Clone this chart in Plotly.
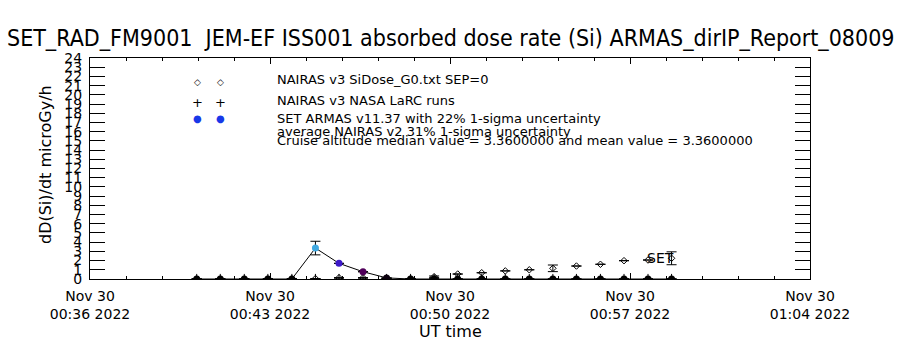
import plotly.graph_objects as go

# ---------------- data ----------------
times = ["2022-11-30 00:40:09", "2022-11-30 00:41:04", "2022-11-30 00:42:00", "2022-11-30 00:42:55",
         "2022-11-30 00:43:51", "2022-11-30 00:44:46", "2022-11-30 00:45:41", "2022-11-30 00:46:37",
         "2022-11-30 00:47:32", "2022-11-30 00:48:28", "2022-11-30 00:49:23", "2022-11-30 00:50:18",
         "2022-11-30 00:51:14", "2022-11-30 00:52:09", "2022-11-30 00:53:05", "2022-11-30 00:54:00",
         "2022-11-30 00:54:55", "2022-11-30 00:55:51", "2022-11-30 00:56:46", "2022-11-30 00:57:42",
         "2022-11-30 00:58:37"]
armas_dose = [0, 0, 0, 0, 0, 3.36, 1.70, 0.79, 0.12, 0, 0, 0, 0, 0, 0, 0, 0, 0, 0, 0, 0]
armas_err = [None, None, None, None, None, 0.74, None, None, None, None, None, None, None,
             None, None, None, None, None, None, None, None]
nairas_v3 = [0.0, 0.0, 0.0, 0.0, 0.02, 0.05, 0.14, 0.14, 0.05, 0.05, 0.25, 0.54, 0.68, 0.88,
             1.0, 1.16, 1.41, 1.6, 1.99, 2.06, 2.25]
nairas_err = [None, None, None, None, None, None, None, None, None, None, 0.08, None, None, None,
              None, 0.36, None, None, None, None, 0.70]
larc = [0.02] * 21

x_tickvals = ["2022-11-30 00:36:00", "2022-11-30 00:43:00", "2022-11-30 00:50:00",
              "2022-11-30 00:57:00", "2022-11-30 01:04:00"]
x_ticktext = ["Nov 30<br>00:36 2022", "Nov 30<br>00:43 2022", "Nov 30<br>00:50 2022",
              "Nov 30<br>00:57 2022", "Nov 30<br>01:04 2022"]

title = "SET_RAD_FM9001  JEM-EF ISS001 absorbed dose rate (Si) ARMAS_dirIP_Report_08009"
legend_lines = ["NAIRAS v3 SiDose_G0.txt SEP=0",
                "NAIRAS v3 NASA LaRC runs",
                "SET ARMAS v11.37 with 22% 1-sigma uncertainty",
                "average NAIRAS v2 31% 1-sigma uncertainty",
                "Cruise altitude median value = 3.3600000 and mean value = 3.3600000"]

FONT = "Liberation Sans Narrow, DejaVu Sans Condensed, Arial Narrow, Liberation Sans, sans-serif"
WIDE = "DejaVu Sans, sans-serif"

W, H = 900, 350
L, R, T, B = 90, 810, 58, 279


def px(x):
    return (x - L) / (R - L)


def py(y):
    return (B - y) / (B - T)


fig = go.Figure()

# NAIRAS v3 diamonds
fig.add_trace(go.Scatter(
    x=times, y=nairas_v3, mode="markers",
    marker=dict(symbol="diamond-open", size=5, color="black", line=dict(width=1, color="black")),
    error_y=dict(type="data", array=nairas_err, visible=True, color="black", thickness=1, width=5),
    showlegend=False))

# NASA LaRC pluses
fig.add_trace(go.Scatter(
    x=times, y=larc, mode="markers",
    marker=dict(symbol="cross-thin-open", size=7, color="black", line=dict(width=1, color="black")),
    showlegend=False))

# ARMAS line + coloured points
fig.add_trace(go.Scatter(
    x=times, y=armas_dose, mode="lines+markers",
    line=dict(color="black", width=1),
    marker=dict(symbol="circle", size=7, color=armas_dose, cmin=0, cmax=3.36,
                colorscale=[[0, "#000000"], [0.235, "#50005a"], [0.506, "#3c18c8"], [1, "#40a8e0"]],
                line=dict(width=0)),
    error_y=dict(type="data", array=armas_err, visible=True, color="black", thickness=1, width=5),
    showlegend=False))

annotations = [
    dict(text=title, x=0.5, y=py(38), xref="paper", yref="paper", showarrow=False,
         font=dict(size=23, family=FONT, color="black"), xanchor="center", yanchor="middle"),
    dict(text="dD(Si)/dt microGy/h", x=px(45), y=py(165), xref="paper", yref="paper",
         showarrow=False, textangle=-90, font=dict(size=16, family=WIDE, color="black"),
         xanchor="center", yanchor="middle"),
    dict(text="UT time", x=0.5, y=py(331), xref="paper", yref="paper", showarrow=False,
         font=dict(size=16, family=WIDE, color="black"), xanchor="center", yanchor="middle"),
    dict(text="SET", x=times[-1], y=nairas_v3[-1], xref="x", yref="y", showarrow=False,
         xshift=4, font=dict(size=14, family=WIDE, color="black"), xanchor="right", yanchor="middle"),
]

leg_y = [79, 100, 118, 131, 140]
for txt, yy in zip(legend_lines, leg_y):
    annotations.append(dict(text=txt, x=px(275), y=py(yy), xref="paper", yref="paper",
                            showarrow=False, xanchor="left", yanchor="middle",
                            font=dict(size=13, family=WIDE, color="black")))

for sx in (197, 220):
    annotations.append(dict(text="◇", x=px(sx), y=py(82), xref="paper", yref="paper", showarrow=False,
                            xanchor="center", yanchor="middle",
                            font=dict(size=9, family=WIDE, color="black")))
    annotations.append(dict(text="+", x=px(sx), y=py(102), xref="paper", yref="paper", showarrow=False,
                            xanchor="center", yanchor="middle",
                            font=dict(size=13, family=WIDE, color="black")))
    annotations.append(dict(text="●", x=px(sx), y=py(118), xref="paper", yref="paper", showarrow=False,
                            xanchor="center", yanchor="middle",
                            font=dict(size=10, family=WIDE, color="#1838e8")))

fig.update_layout(
    width=W, height=H,
    margin=dict(l=L, r=W - R, t=T, b=H - B, pad=0),
    paper_bgcolor="white", plot_bgcolor="white",
    font=dict(family=WIDE, color="black"),
    annotations=annotations,
    xaxis=dict(type="date", range=["2022-11-30 00:36:00", "2022-11-30 01:04:00"],
               tickmode="array", tickvals=x_tickvals, ticktext=x_ticktext,
               ticks="inside", ticklen=6, tickcolor="black", tickwidth=1,
               minor=dict(dtick=84000, tick0="2022-11-30 00:36:00", ticks="inside", ticklen=3,
                          tickcolor="black", tickwidth=1, showgrid=False),
               showline=True, linecolor="black", linewidth=1, mirror="ticks",
               showgrid=False, zeroline=False,
               tickfont=dict(size=14, family=WIDE, color="black"), ticklabelstandoff=4),
    yaxis=dict(range=[0, 24], tickmode="linear", tick0=0, dtick=1,
               ticks="inside", ticklen=15, tickcolor="black", tickwidth=1,
               showline=True, linecolor="black", linewidth=1, mirror="ticks",
               showgrid=False, zeroline=False,
               tickfont=dict(size=14, family=WIDE, color="black"), ticklabelstandoff=4),
)

fig.write_html("out.html")
